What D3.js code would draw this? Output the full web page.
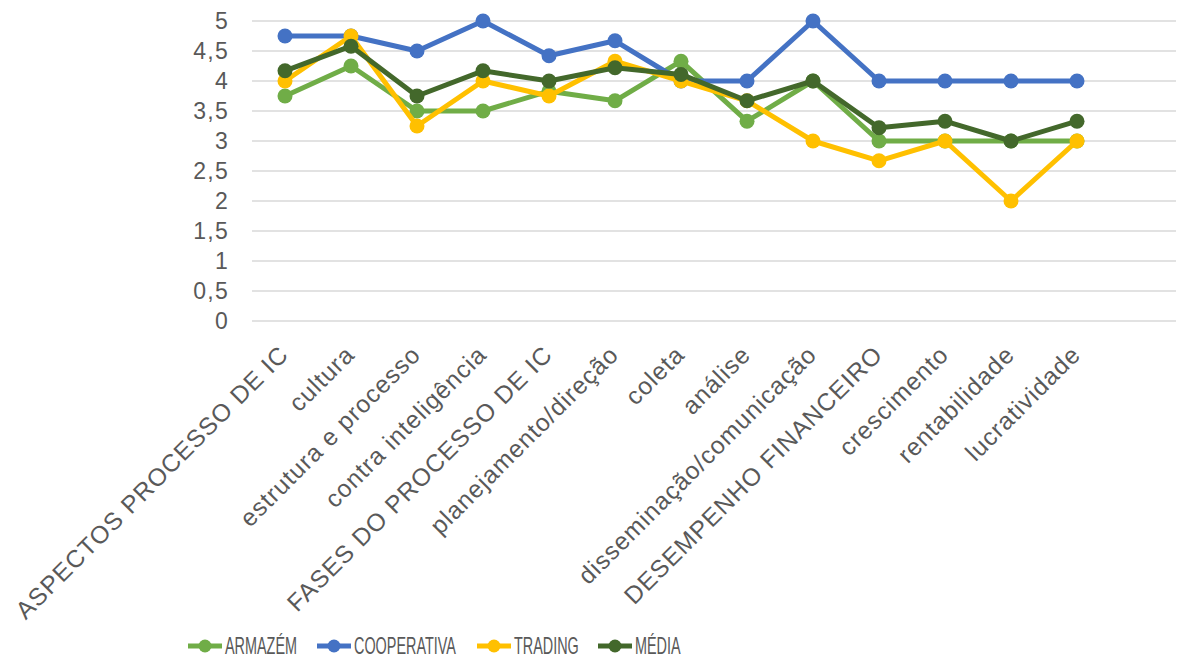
<!DOCTYPE html>
<html lang="pt">
<head>
<meta charset="UTF-8">
<title>Aspectos, fases e desempenho</title>
<script src="https://cdn.jsdelivr.net/npm/d3@7"></script>
<style>
    html, body { margin: 0; padding: 0; background: #fff; }
    svg { display: block; }
    .tick-y text { fill: #595959; font-family: "Liberation Sans", Arial, sans-serif; font-size: 23px; letter-spacing: 1.3px; }
    .tick-x text { fill: #595959; font-family: "Liberation Sans", Arial, sans-serif; font-size: 24.5px; letter-spacing: 1px; }
    .legend text { fill: #595959; font-family: "Liberation Sans", Arial, sans-serif; font-size: 24px; }
</style>
</head>
<body>
<div id="chart"></div>
<script>
    // categories (the sheet has one more empty slot at the end)
    const categories = [
        'ASPECTOS PROCESSO DE IC', 'cultura', 'estrutura e processo', 'contra inteligência',
        'FASES DO PROCESSO DE IC', 'planejamento/direção', 'coleta', 'análise',
        'disseminação/comunicação', 'DESEMPENHO FINANCEIRO', 'crescimento', 'rentabilidade',
        'lucratividade'
    ];

    const armazem     = [3.75, 4.25, 3.5, 3.5, 3.83, 3.67, 4.33, 3.33, 4, 3, 3, 3, 3];
    const cooperativa = [4.75, 4.75, 4.5, 5, 4.42, 4.67, 4, 4, 5, 4, 4, 4, 4];
    const trading     = [4, 4.75, 3.25, 4, 3.75, 4.33, 4, 3.67, 3, 2.67, 3, 2, 3];
    const media       = [4.17, 4.58, 3.75, 4.17, 4, 4.22, 4.11, 3.67, 4, 3.22, 3.33, 3, 3.33];

    const yTicks = [0, 0.5, 1, 1.5, 2, 2.5, 3, 3.5, 4, 4.5, 5];

    const series = [
        { name: 'ARMAZÉM', values: armazem, color: '#70AD47' },
        { name: 'COOPERATIVA', values: cooperativa, color: '#4472C4' },
        { name: 'TRADING', values: trading, color: '#FFC000' },
        { name: 'MÉDIA', values: media, color: '#43682B' }
    ];

    const width = 1178, height = 659;
    const plot = { left: 252, right: 1176, top: 21, bottom: 321 };

    const svg = d3.select('#chart').append('svg')
        .attr('width', width)
        .attr('height', height);

    const x = d3.scaleBand()
        .domain(d3.range(categories.length + 1))
        .range([plot.left, plot.right]);

    const y = d3.scaleLinear()
        .domain([0, 5])
        .range([plot.bottom, plot.top]);

    const fmt = d => String(d).replace('.', ',');

    // gridlines
    svg.append('g')
        .selectAll('line')
        .data(yTicks)
        .join('line')
        .attr('x1', plot.left)
        .attr('x2', plot.right)
        .attr('y1', d => y(d))
        .attr('y2', d => y(d))
        .attr('stroke', '#d9d9d9')
        .attr('stroke-width', 1.5);

    // y labels
    svg.append('g').attr('class', 'tick-y')
        .selectAll('text')
        .data(yTicks)
        .join('text')
        .attr('x', 229)
        .attr('y', d => y(d))
        .attr('dy', '0.35em')
        .attr('text-anchor', 'end')
        .text(fmt);

    // x labels, rotated
    const cx = i => x(i) + x.bandwidth() / 2;
    svg.append('g').attr('class', 'tick-x')
        .selectAll('text')
        .data(categories)
        .join('text')
        .attr('transform', (d, i) => `translate(${cx(i) - 1},${plot.bottom + 29}) rotate(-45)`)
        .attr('text-anchor', 'end')
        .attr('dy', '0.35em')
        .text(d => d);

    const line = d3.line()
        .x((d, i) => cx(i))
        .y(d => y(d));

    series.forEach(s => {
        const g = svg.append('g');
        g.append('path')
            .datum(s.values)
            .attr('d', line)
            .attr('fill', 'none')
            .attr('stroke', s.color)
            .attr('stroke-width', 5)
            .attr('stroke-linejoin', 'round');
        g.selectAll('circle')
            .data(s.values)
            .join('circle')
            .attr('cx', (d, i) => cx(i))
            .attr('cy', d => y(d))
            .attr('r', 7.5)
            .attr('fill', s.color);
    });

    // legend (the original uses a narrow face, squeeze it horizontally)
    const legendX = [188, 317, 477, 598];
    const legend = svg.append('g').attr('class', 'legend');
    series.forEach((s, i) => {
        const g = legend.append('g').attr('transform', `translate(${legendX[i]},646)`);
        g.append('line')
            .attr('x1', 0).attr('x2', 34)
            .attr('stroke', s.color)
            .attr('stroke-width', 5);
        g.append('circle')
            .attr('cx', 17).attr('r', 6.5)
            .attr('fill', s.color);
        g.append('text')
            .attr('transform', 'translate(37,0) scale(0.6,1)')
            .attr('dy', '0.35em')
            .text(s.name);
    });
</script>
</body>
</html>
